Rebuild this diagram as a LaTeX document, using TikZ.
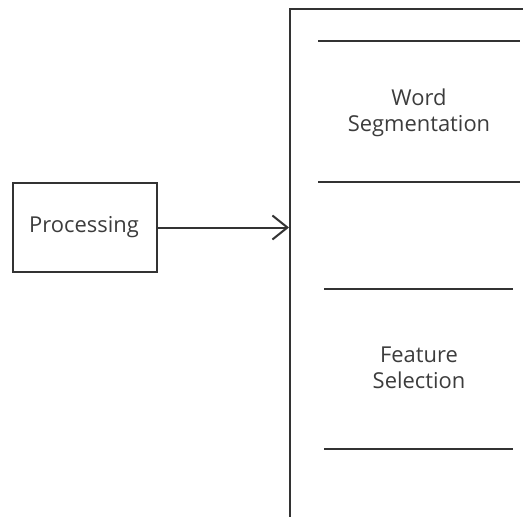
\documentclass[tikz,border=0pt]{standalone}
\usepackage{fontspec}
\setmainfont{Open Sans}
\usetikzlibrary{arrows.meta}
\definecolor{ink}{HTML}{333333}
\definecolor{txt}{HTML}{3c3c3c}
\begin{document}
\begin{tikzpicture}[x=1bp,y=-1bp,
  line width=2bp,
  box/.style={draw=ink, line width=2bp, rectangle, inner sep=0pt},
  label/.style={text=txt, font=\fontsize{22}{26.5}\selectfont, align=center},
  rule/.style={draw=ink, line width=2bp},
  flow/.style={draw=ink, line width=2bp, -{Straight Barb[length=15bp,width=24bp,line width=2bp]}}]
  \useasboundingbox (0,0) rectangle (523,517);
  \clip (0,0) rectangle (523,517);
  % processing step
  \node[box, minimum width=144bp, minimum height=89bp, anchor=north west] (proc) at (12,182) {};
  \node[label] (proctext) at (84,227) {Processing};
  % pipeline container (runs off the page to the right and bottom)
  \node[box, minimum width=260bp, minimum height=540bp, anchor=north west] (stages) at (289,8) {};
  % stage separators
  \draw[rule] (318,41) -- (520,41);
  \draw[rule] (318,182) -- (520,182);
  \draw[rule] (324,289) -- (513,289);
  \draw[rule] (324,449) -- (513,449);
  % stage labels
  \node[label] (ws) at (419,113) {Word\\Segmentation};
  \node[label] (fs) at (419,368) {Feature\\Selection};
  % connector
  \draw[flow] (proc.east) -- (proc.east -| stages.west);
\end{tikzpicture}
\end{document}
